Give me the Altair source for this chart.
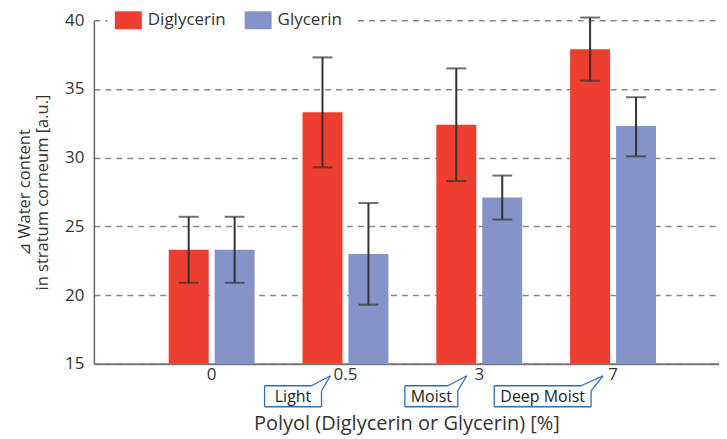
import altair as alt
import pandas as pd

doses = ["0", "0.5", "3", "7"]
series = ["Diglycerin", "Glycerin"]
diglycerin = [23.3, 33.3, 32.4, 37.9]
dig_low = [20.9, 29.3, 28.3, 35.6]
dig_high = [25.7, 37.3, 36.5, 40.2]
glycerin = [23.3, 23.0, 27.1, 32.3]
gly_low = [20.9, 19.3, 25.5, 30.1]
gly_high = [25.7, 26.7, 28.7, 34.4]

callout_doses = ["0.5", "3", "7"]
callout_labels = ["Light", "Moist", "Deep Moist"]

colors = ["#EE3E2F", "#8494C8"]
FONT = "Open Sans"
W, H = 626, 344

rows = []
for i, d in enumerate(doses):
    rows.append({"dose": d, "series": series[0], "value": diglycerin[i], "low": dig_low[i], "high": dig_high[i]})
    rows.append({"dose": d, "series": series[1], "value": glycerin[i], "low": gly_low[i], "high": gly_high[i]})
df = pd.DataFrame(rows)

xscale = alt.Scale(domain=doses, paddingInner=0.358, paddingOuter=0.515, align=0.543)
xoff = alt.XOffset("series:N", sort=series, scale=alt.Scale(domain=series, paddingInner=0.13, paddingOuter=0))
yscale = alt.Scale(domain=[15, 40], zero=False, nice=False)

xenc = alt.X("dose:N", sort=doses, scale=xscale,
             axis=alt.Axis(title="Polyol (Diglycerin or Glycerin) [%]", labelAngle=0, ticks=False,
                           labelFontSize=17, labelColor="#333", labelPadding=3, labelFont=FONT,
                           titleFont=FONT, titleFontSize=20, titleFontWeight="normal", titleColor="#333",
                           titlePadding=31, domain=True, domainColor="#777", domainWidth=2))

base = alt.Chart(df).encode(x=xenc, xOffset=xoff)

bars = base.mark_bar().encode(
    y=alt.Y("value:Q", scale=yscale,
            axis=alt.Axis(values=[15, 20, 25, 30, 35, 40], ticks=False, labelFontSize=17, labelColor="#333",
                          labelFont=FONT, labelPadding=10, grid=True, gridDash=[6, 5], gridColor="#888",
                          gridWidth=1.5, domain=True, domainColor="#666", domainWidth=1.5,
                          title=["⊿ Water content", "in stratum corneum [a.u.]"], titleFont=FONT,
                          titleFontSize=16.5, titleFontWeight="normal", titleColor="#333", titlePadding=14)),
    y2=alt.datum(15),
    color=alt.Color("series:N", sort=series, scale=alt.Scale(domain=series, range=colors),
                    legend=alt.Legend(title=None, orient="none", legendX=13.5, legendY=-21,
                                      direction="horizontal", fillColor="white", padding=12,
                                      symbolType="M-1.5,-1H1.5V1H-1.5Z", symbolSize=324,
                                      symbolStrokeWidth=0, symbolOpacity=1,
                                      labelFontSize=17, labelFont=FONT, labelColor="#333",
                                      labelOffset=10.5, columnPadding=18)),
)

err = base.mark_rule(color="#333", strokeWidth=2).encode(y=alt.Y("low:Q", scale=yscale), y2="high:Q")
cap_lo = base.mark_tick(color="#333", thickness=2, size=20).encode(y=alt.Y("low:Q", scale=yscale))
cap_hi = base.mark_tick(color="#333", thickness=2, size=20).encode(y=alt.Y("high:Q", scale=yscale))

layers = [bars, err, cap_lo, cap_hi]

cdf = pd.DataFrame({"dose": callout_doses, "label": callout_labels})
# (left, right, top attach, tip) offsets from band centre, per callout
geom = {"Light": (-81, -24, -34, -15), "Moist": (-74.5, -21.5, -31.5, -12.5), "Deep Moist": (-119, -22, -32, -10)}
T, B, TIPY, RA = H + 22, H + 43, H + 12, H + 27
BOX = "#2B73B8"

cx = alt.X("dose:N", sort=doses, scale=xscale, bandPosition=0.5)
cx2 = alt.X2("dose", bandPosition=0.5)
for lab in callout_labels:
    L, R, A, P = geom[lab]
    c = alt.Chart(cdf).transform_filter(alt.datum.label == lab)
    segs = [(L, A, T, T), (L, L, T, B), (L, R, B, B), (R, R, RA, B), (A, P, T, TIPY), (P, R, TIPY, RA)]
    for (xa, xb, ya, yb) in segs:
        layers.append(c.mark_rule(color=BOX, strokeWidth=1.3, xOffset=xa, x2Offset=xb).encode(
            x=cx, x2=cx2, y=alt.value(ya), y2=alt.value(yb)))
    layers.append(c.mark_text(font=FONT, fontSize=16, color="#222", xOffset=(L + R) / 2, baseline="middle").encode(
        x=cx, y=alt.value((T + B) / 2 + 1), text="label:N"))

chart = alt.layer(*layers).properties(
    width=W, height=H,
    autosize=alt.AutoSizeParams(type="none"),
    padding={"left": 86, "top": 12, "right": 0, "bottom": 77},
).configure_view(stroke=None)

chart.save("out.html", embed_options={"renderer": "svg", "actions": False})
